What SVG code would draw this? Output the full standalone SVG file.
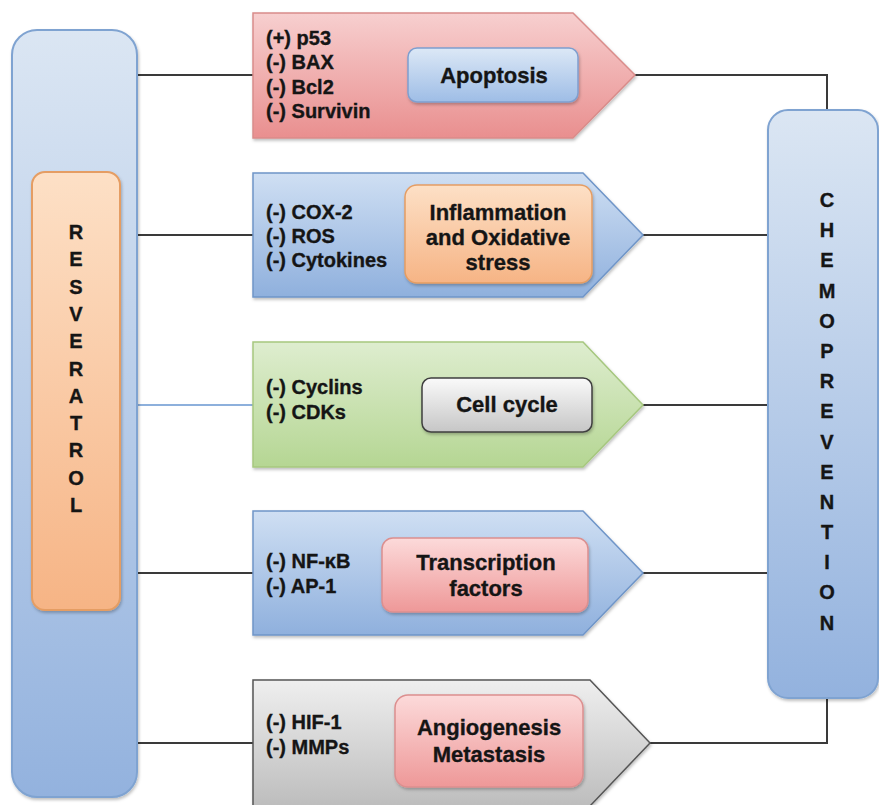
<svg xmlns="http://www.w3.org/2000/svg" width="879" height="805" viewBox="0 0 879 805">
<defs>
  <linearGradient id="gCol" x1="0" y1="0" x2="0" y2="1"><stop offset="0" stop-color="#dbe6f3"/><stop offset="1" stop-color="#93b2de"/></linearGradient>
  <linearGradient id="gOrange" x1="0" y1="0" x2="0" y2="1"><stop offset="0" stop-color="#fde0c6"/><stop offset="1" stop-color="#f6b485"/></linearGradient>
  <linearGradient id="gPinkArrow" x1="0" y1="0" x2="0" y2="1"><stop offset="0" stop-color="#f7cfcf"/><stop offset="1" stop-color="#e98f8f"/></linearGradient>
  <linearGradient id="gBlueArrow" x1="0" y1="0" x2="0" y2="1"><stop offset="0" stop-color="#cfdff3"/><stop offset="1" stop-color="#8fb0dd"/></linearGradient>
  <linearGradient id="gGreen" x1="0" y1="0" x2="0" y2="1"><stop offset="0" stop-color="#deedcf"/><stop offset="1" stop-color="#b5d693"/></linearGradient>
  <linearGradient id="gGray" x1="0" y1="0" x2="0" y2="1"><stop offset="0" stop-color="#efefef"/><stop offset="1" stop-color="#bdbdbd"/></linearGradient>
  <linearGradient id="gBlueBox" x1="0" y1="0" x2="0" y2="1"><stop offset="0" stop-color="#dce8f6"/><stop offset="1" stop-color="#9ebde6"/></linearGradient>
  <linearGradient id="gPinkBox" x1="0" y1="0" x2="0" y2="1"><stop offset="0" stop-color="#fcdada"/><stop offset="1" stop-color="#ee9898"/></linearGradient>
  <linearGradient id="gWhiteBox" x1="0" y1="0" x2="0" y2="1"><stop offset="0" stop-color="#fafafa"/><stop offset="1" stop-color="#c6c6c6"/></linearGradient>
  <filter id="sh" x="-10%" y="-10%" width="120%" height="130%">
    <feDropShadow dx="1" dy="2" stdDeviation="1.5" flood-color="#000" flood-opacity="0.25"/>
  </filter>
</defs>
<style>
  text { font-family: "Liberation Sans", Arial, sans-serif; font-weight: bold; fill: #151515; stroke: #151515; stroke-width: 0.35; }
  .lst { font-size: 20px; }
  .lbl { font-size: 22px; text-anchor: middle; }
  .col { font-size: 20px; text-anchor: middle; }
  .conn { fill: none; stroke: #3a3a3a; stroke-width: 2; }
  .connB { fill: none; stroke: #8db0dc; stroke-width: 2; }
</style>

<g id="connectors">
  <line class="conn" x1="137" y1="75" x2="253" y2="75"/>
  <line class="conn" x1="137" y1="235" x2="253" y2="235"/>
  <line class="connB" x1="137" y1="405" x2="253" y2="405"/>
  <line class="conn" x1="137" y1="573" x2="253" y2="573"/>
  <line class="conn" x1="137" y1="743" x2="253" y2="743"/>
  <polyline class="conn" points="635,75 827,75 827,110"/>
  <line class="conn" x1="643" y1="235" x2="768" y2="235"/>
  <line class="conn" x1="643" y1="405" x2="768" y2="405"/>
  <line class="conn" x1="643" y1="573" x2="768" y2="573"/>
  <polyline class="conn" points="650,743 827,743 827,698"/>
</g>

<g id="resveratrol">
  <rect x="12" y="30" width="125" height="767" rx="25" fill="url(#gCol)" stroke="#7fa3d1" stroke-width="2" filter="url(#sh)"/>
  <rect x="32" y="172" width="88" height="438" rx="13" fill="url(#gOrange)" stroke="#e59d63" stroke-width="2" filter="url(#sh)"/>
  <text class="col" x="76" y="239">R</text>
  <text class="col" x="76" y="266">E</text>
  <text class="col" x="76" y="294">S</text>
  <text class="col" x="76" y="321">V</text>
  <text class="col" x="76" y="348">E</text>
  <text class="col" x="76" y="376">R</text>
  <text class="col" x="76" y="403">A</text>
  <text class="col" x="76" y="430">T</text>
  <text class="col" x="76" y="457">R</text>
  <text class="col" x="76" y="485">O</text>
  <text class="col" x="76" y="512">L</text>
</g>

<g id="chemoprevention">
  <rect x="768" y="110" width="110" height="588" rx="20" fill="url(#gCol)" stroke="#7fa3d1" stroke-width="2" filter="url(#sh)"/>
  <text class="col" x="827" y="207">C</text>
  <text class="col" x="827" y="237">H</text>
  <text class="col" x="827" y="267">E</text>
  <text class="col" x="827" y="298">M</text>
  <text class="col" x="827" y="328">O</text>
  <text class="col" x="827" y="358">P</text>
  <text class="col" x="827" y="388">R</text>
  <text class="col" x="827" y="418">E</text>
  <text class="col" x="827" y="449">V</text>
  <text class="col" x="827" y="479">E</text>
  <text class="col" x="827" y="509">N</text>
  <text class="col" x="827" y="539">T</text>
  <text class="col" x="827" y="569">I</text>
  <text class="col" x="827" y="599">O</text>
  <text class="col" x="827" y="630">N</text>
</g>

<g id="apoptosis">
  <polygon points="253,13 573,13 635,75 573,138 253,138" fill="url(#gPinkArrow)" stroke="#d98c8a" stroke-width="1.5" filter="url(#sh)"/>
  <text class="lst" x="266" y="45">(+) p53</text>
  <text class="lst" x="266" y="69">(-) BAX</text>
  <text class="lst" x="266" y="94">(-) Bcl2</text>
  <text class="lst" x="266" y="118">(-) Survivin</text>
  <rect x="408" y="48" width="170" height="54" rx="9" fill="url(#gBlueBox)" stroke="#7f9fcf" stroke-width="1.5" filter="url(#sh)"/>
  <text class="lbl" x="494" y="83">Apoptosis</text>
</g>

<g id="inflammation">
  <polygon points="253,173 583,173 643,235 583,297 253,297" fill="url(#gBlueArrow)" stroke="#6f95c8" stroke-width="1.5" filter="url(#sh)"/>
  <text class="lst" x="266" y="219">(-) COX-2</text>
  <text class="lst" x="266" y="243">(-) ROS</text>
  <text class="lst" x="266" y="267">(-) Cytokines</text>
  <rect x="405" y="185" width="187" height="98" rx="12" fill="url(#gOrange)" stroke="#e59d63" stroke-width="1.5" filter="url(#sh)"/>
  <text class="lbl" x="498" y="220">Inflammation</text>
  <text class="lbl" x="498" y="245">and Oxidative</text>
  <text class="lbl" x="498" y="270">stress</text>
</g>

<g id="cellcycle">
  <polygon points="253,342 583,342 643,405 583,467 253,467" fill="url(#gGreen)" stroke="#a6c77f" stroke-width="1.5" filter="url(#sh)"/>
  <text class="lst" x="266" y="394">(-) Cyclins</text>
  <text class="lst" x="266" y="419">(-) CDKs</text>
  <rect x="422" y="378" width="170" height="54" rx="9" fill="url(#gWhiteBox)" stroke="#3f3f3f" stroke-width="1.5" filter="url(#sh)"/>
  <text class="lbl" x="507" y="412">Cell cycle</text>
</g>

<g id="transcription">
  <polygon points="253,511 583,511 643,573 583,635 253,635" fill="url(#gBlueArrow)" stroke="#6f95c8" stroke-width="1.5" filter="url(#sh)"/>
  <text class="lst" x="266" y="568">(-) NF-κB</text>
  <text class="lst" x="266" y="593">(-) AP-1</text>
  <rect x="382" y="538" width="206" height="74" rx="11" fill="url(#gPinkBox)" stroke="#dc8f8f" stroke-width="1.5" filter="url(#sh)"/>
  <text class="lbl" x="486" y="570">Transcription</text>
  <text class="lbl" x="486" y="596">factors</text>
</g>

<g id="angiogenesis">
  <polygon points="253,680 590,680 650,743 590,806 253,806" fill="url(#gGray)" stroke="#555555" stroke-width="1.5" filter="url(#sh)"/>
  <text class="lst" x="266" y="729">(-) HIF-1</text>
  <text class="lst" x="266" y="754">(-) MMPs</text>
  <rect x="395" y="695" width="188" height="92" rx="13" fill="url(#gPinkBox)" stroke="#dc8f8f" stroke-width="1.5" filter="url(#sh)"/>
  <text class="lbl" x="489" y="735">Angiogenesis</text>
  <text class="lbl" x="489" y="762">Metastasis</text>
</g>
</svg>
